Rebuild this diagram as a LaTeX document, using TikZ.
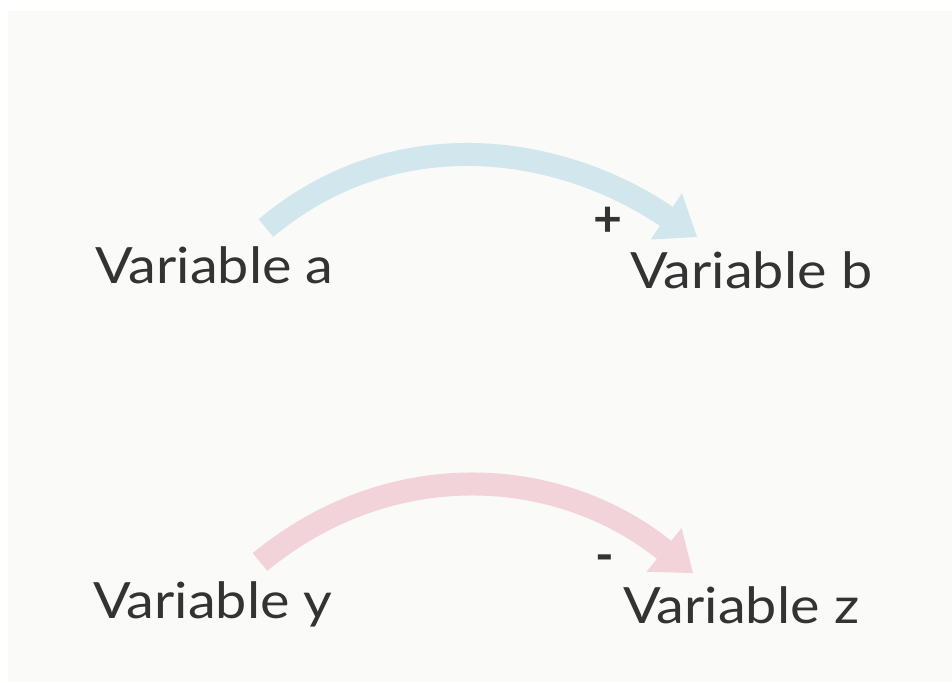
\documentclass[tikz,border=0pt]{standalone}
\usepackage{fontspec}
\setmainfont{Lato}
\newfontfamily\labelfont{Lato}[FakeStretch=1.115]
\newfontfamily\signfont{Lato Bold}
\usetikzlibrary{arrows.meta}

\definecolor{panel}{HTML}{FAFAF8}
\definecolor{inkgray}{HTML}{333333}
\definecolor{posblue}{HTML}{D2E6EE}
\definecolor{negpink}{HTML}{F3D3DA}

\tikzset{
  varlabel/.style={anchor=base west, inner sep=0pt, text=inkgray,
    font=\labelfont\fontsize{50}{60}\selectfont},
  signlabel/.style={anchor=base, inner sep=0pt, text=inkgray,
    font=\signfont\fontsize{50}{56}\selectfont},
  link/.style={line width=23pt,
    -{Triangle[width=56pt,length=37pt,line width=0pt]}},
}

\begin{document}
\begin{tikzpicture}[x=1pt,y=-1pt]
  % page and panel
  \fill[white] (0,0) rectangle (952,682);
  \useasboundingbox (0,0) rectangle (952,682);
  \fill[panel] (8,11) rectangle (952,682);

  % variables
  \node[varlabel] (va) at (95,283) {Variable a};
  \node[varlabel] (vb) at (630,288) {Variable b};
  \node[varlabel] (vy) at (93,618) {Variable y};
  \node[varlabel] (vz) at (623,623) {Variable z};

  % connector end points
  \coordinate (a-out) at (266,228);
  \coordinate (b-in)  at (697,237);
  \coordinate (y-out) at (260,562);
  \coordinate (z-in)  at (693,573);

  % positive link a -> b
  \draw[link, posblue] (a-out) .. controls (395,120) and (559,144) .. (b-in);
  \node[signlabel] (plus) at (608,236) {+};

  % negative link y -> z
  \draw[link, negpink] (y-out) .. controls (390,455) and (558,465) .. (z-in);
  \node[signlabel] (minus) at (605,572) {-};
\end{tikzpicture}
\end{document}
